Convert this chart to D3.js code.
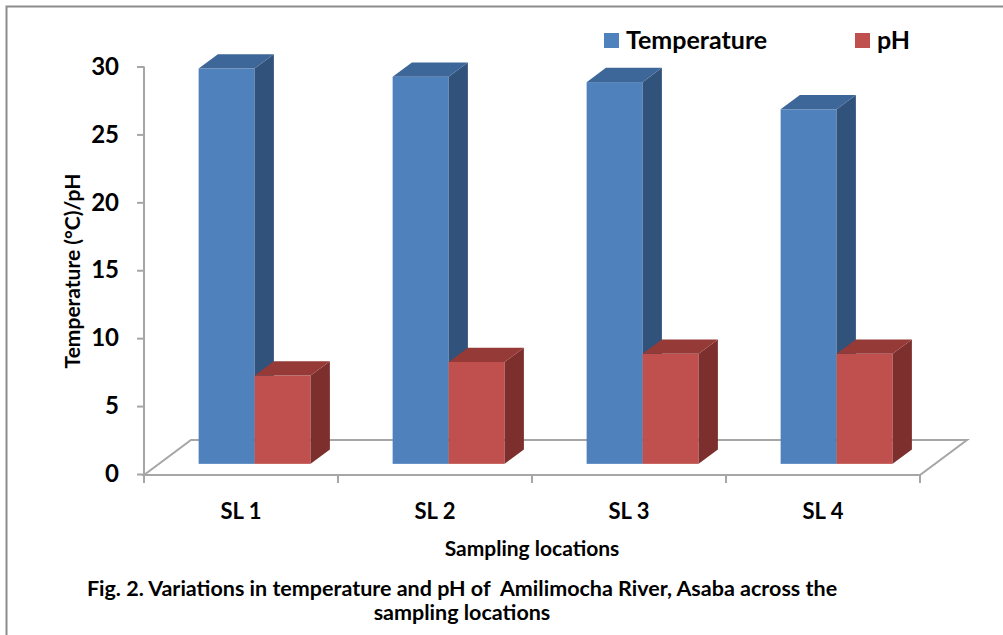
<!DOCTYPE html>
<html>
<head>
<meta charset="utf-8">
<script src="https://cdn.jsdelivr.net/npm/d3@7/dist/d3.min.js"></script>
<style>
  body { margin: 0; background: #fff; }
  svg { display: block; font-family: Lato, 'Open Sans', sans-serif; font-weight: bold; }
</style>
</head>
<body>
<div class="canvas"></div>
<script>
const categories = ['SL 1', 'SL 2', 'SL 3', 'SL 4']
const seriesNames = ['Temperature', 'pH']
const temperature = [29.1, 28.5, 28.1, 26.1]
const ph = [6.5, 7.5, 8.1, 8.1]
const yTicks = [0, 5, 10, 15, 20, 25, 30]

const colors = {
  Temperature: {front: '#4f81bd', top: '#3d6699', side: '#30527b'},
  pH: {front: '#c0504d', top: '#953a37', side: '#7c2f2d'}
}

class Column3D {
  constructor(size) {
    this.size = size
    // oblique depth of the floor, in pixels
    this.depth = {x: 47, y: -35}
    this.barDepth = {start: 0.29, span: 0.41}

    this.svg = d3.select('.canvas')
      .append('svg')
      .attr('width', size.width)
      .attr('height', size.height)

    this.setUpScales()
    this.drawFrame()
    this.drawFloor()
    this.drawAxes()
    this.drawBars()
    this.drawLegend()
    this.drawTexts()
  }

  setUpScales() {
    this.x = d3.scaleBand()
      .domain(categories)
      .range([144, 920])

    this.inner = d3.scaleBand()
      .domain(seriesNames)
      .range([0, 112])

    this.y = d3.scaleLinear()
      .domain([0, 30])
      .range([474, 66.5])
  }

  drawFrame() {
    this.svg.append('path')
      .attr('d', `M6.5,${this.size.height} V6.5 H${this.size.width}`)
      .attr('fill', 'none')
      .attr('stroke', '#8c8c8c')
      .attr('stroke-width', 2)
  }

  drawFloor() {
    const [x0, x1] = this.x.range()
    const y0 = this.y(0) + 1
    const {x: dx, y: dy} = this.depth
    const points = [[x0, y0], [x1, y0], [x1 + dx, y0 + dy], [x0 + dx, y0 + dy]]
    this.svg.append('polygon')
      .attr('points', points.join(' '))
      .attr('fill', 'none')
      .attr('stroke', '#a6a6a6')
      .attr('stroke-width', 2)
  }

  drawAxes() {
    const yAxis = d3.axisLeft(this.y)
      .tickValues(yTicks)
      .tickSize(7)
      .tickPadding(18)

    const yGroup = this.svg.append('g')
      .attr('transform', `translate(${this.x.range()[0]}, 0)`)
      .call(yAxis)
    yGroup.select('.domain').remove()
    yGroup.selectAll('line').attr('stroke', '#a6a6a6').attr('stroke-width', 2)
    yGroup.selectAll('text')
      .attr('fill', '#000')
      .style('font-size', '24px')
      .style('font-family', 'Lato')

    this.svg.append('line')
      .attr('x1', this.x.range()[0])
      .attr('x2', this.x.range()[0])
      .attr('y1', this.y(30))
      .attr('y2', this.y(0) + 9)
      .attr('stroke', '#a6a6a6')
      .attr('stroke-width', 2)

    const edges = categories.map(c => this.x(c)).concat(this.x.range()[1])
    this.svg.selectAll('.x-tick')
      .data(edges)
      .enter().append('line')
      .attr('class', 'x-tick')
      .attr('x1', d => d)
      .attr('x2', d => d)
      .attr('y1', this.y(0) + 1)
      .attr('y2', this.y(0) + 9)
      .attr('stroke', '#a6a6a6')
      .attr('stroke-width', 2)

    this.svg.selectAll('.x-label')
      .data(categories)
      .enter().append('text')
      .attr('class', 'x-label')
      .attr('x', d => this.x(d) + this.x.bandwidth() / 2)
      .attr('y', 519)
      .attr('text-anchor', 'middle')
      .style('font-size', '22px')
      .text(d => d)
  }

  drawBars() {
    const chart = this
    const bars = []
    categories.forEach((c, i) => {
      bars.push({category: c, series: 'Temperature', value: temperature[i]})
      bars.push({category: c, series: 'pH', value: ph[i]})
    })

    const {x: dx, y: dy} = this.depth
    const z0 = this.barDepth.start
    const zs = this.barDepth.span
    const w = this.inner.bandwidth()
    const offset = (this.x.bandwidth() - this.inner.range()[1]) / 2

    const groups = this.svg.selectAll('.bar')
      .data(bars)
      .enter().append('g')
      .attr('class', 'bar')

    groups.each(function (d) {
      const g = d3.select(this)
      const left = chart.x(d.category) + offset + chart.inner(d.series) + z0 * dx
      const top = chart.y(d.value) + z0 * dy
      const bottom = chart.y(0) + z0 * dy
      const ex = zs * dx
      const ey = zs * dy
      const c = colors[d.series]

      g.append('rect')
        .attr('x', left)
        .attr('y', top)
        .attr('width', w)
        .attr('height', bottom - top)
        .attr('fill', c.front)

      g.append('polygon')
        .attr('points', [[left + w, top], [left + w + ex, top + ey],
          [left + w + ex, bottom + ey], [left + w, bottom]].join(' '))
        .attr('fill', c.side)

      g.append('polygon')
        .attr('points', [[left, top], [left + ex, top + ey],
          [left + w + ex, top + ey], [left + w, top]].join(' '))
        .attr('fill', c.top)
    })
  }

  drawLegend() {
    const items = [
      {name: 'Temperature', x: 604},
      {name: 'pH', x: 855}
    ]
    const legend = this.svg.selectAll('.legend')
      .data(items)
      .enter().append('g')
      .attr('class', 'legend')
      .attr('transform', d => `translate(${d.x}, 33)`)

    legend.append('rect')
      .attr('width', 15)
      .attr('height', 15)
      .attr('fill', d => colors[d.name].front)

    legend.append('text')
      .attr('x', 22)
      .attr('y', 16)
      .style('font-size', '25px')
      .text(d => d.name)
  }

  drawTexts() {
    this.svg.append('text')
      .attr('transform', 'translate(80, 271) rotate(-90)')
      .attr('text-anchor', 'middle')
      .style('font-size', '21px')
      .text('Temperature (°C)/pH')

    this.svg.append('text')
      .attr('x', 532)
      .attr('y', 556)
      .attr('text-anchor', 'middle')
      .style('font-size', '21px')
      .text('Sampling locations')

    const caption = this.svg.append('text')
      .attr('text-anchor', 'middle')
      .style('font-size', '21.5px')
      .style('white-space', 'pre')
    caption.append('tspan')
      .attr('x', 462)
      .attr('y', 596)
      .text('Fig. 2. Variations in temperature and pH of  Amilimocha River, Asaba across the')
    caption.append('tspan')
      .attr('x', 462)
      .attr('y', 620)
      .text('sampling locations')
  }
}

new Column3D({width: 1003, height: 635})
</script>
</body>
</html>
